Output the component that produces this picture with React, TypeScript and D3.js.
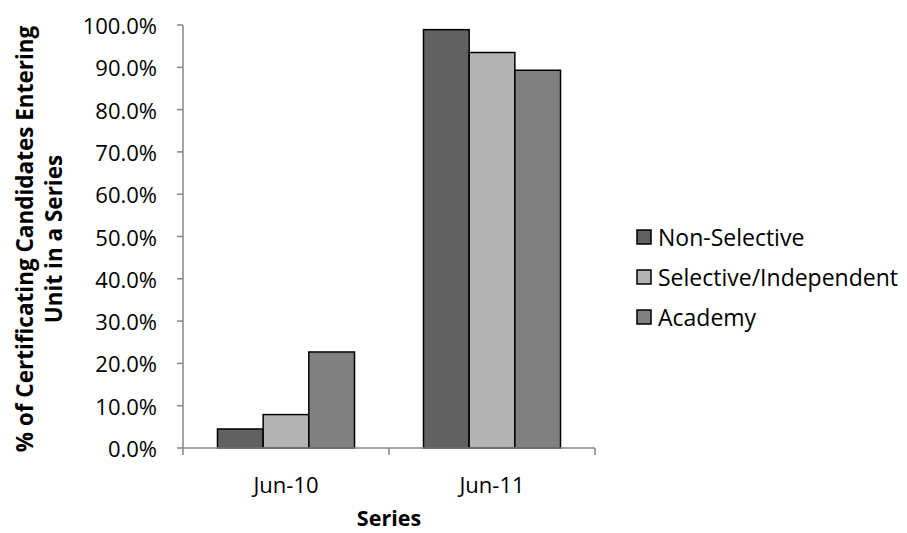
import React from "react";
import * as d3 from "d3";

const categories = ["Jun-10", "Jun-11"];
const seriesNames = ["Non-Selective", "Selective/Independent", "Academy"];
const nonSelective = [0.045, 0.989];
const selective = [0.079, 0.935];
const academy = [0.227, 0.893];
const yTicks = [0, 0.1, 0.2, 0.3, 0.4, 0.5, 0.6, 0.7, 0.8, 0.9, 1.0];
const colors = ["#616161", "#b3b3b3", "#808080"];

const W = 907;
const H = 533;
const left = 183;
const right = 595;
const top = 25;
const bottom = 448;
const FONT = "'Open Sans', sans-serif";

export default function App() {
  const series = [nonSelective, selective, academy];
  const x = d3.scaleBand().domain(categories).range([left, right]).paddingInner(0).paddingOuter(0);
  const y = d3.scaleLinear().domain([0, 1]).range([bottom, top]);
  const inner = d3
    .scaleBand()
    .domain(seriesNames)
    .range([0, x.bandwidth()])
    .paddingInner(0)
    .paddingOuter(0.755);
  const fmt = d3.format(".1%");
  const axisColor = "#868686";
  const tickEdges = [left, ...categories.map((c) => (x(c) as number) + x.bandwidth())];

  return (
    <svg width={W} height={H} style={{ position: "absolute", left: 0, top: 0, background: "#fff" }}>
      <rect x={0} y={0} width={W} height={H} fill="#fff" />
      {/* bars */}
      {categories.map((c, ci) =>
        series.map((s, si) => {
          const bx = (x(c) as number) + (inner(seriesNames[si]) as number);
          const by = y(s[ci]);
          return (
            <rect
              key={c + si}
              x={bx}
              y={by}
              width={inner.bandwidth()}
              height={bottom - by}
              fill={colors[si]}
              stroke="#000"
              strokeWidth={1.5}
            />
          );
        })
      )}
      {/* y axis */}
      <line x1={left} x2={left} y1={top} y2={bottom} stroke={axisColor} strokeWidth={1.5} />
      {yTicks.map((t) => (
        <g key={t}>
          <line x1={left - 6} x2={left} y1={y(t)} y2={y(t)} stroke={axisColor} strokeWidth={1.5} />
          <text
            x={157}
            y={y(t)}
            textAnchor="end"
            dominantBaseline="central"
            fontFamily={FONT}
            fontSize={22}
            fill="#000"
          >
            {fmt(t)}
          </text>
        </g>
      ))}
      {/* x axis */}
      <line x1={left} x2={right} y1={bottom} y2={bottom} stroke={axisColor} strokeWidth={1.5} />
      {tickEdges.map((tx) => (
        <line key={tx} x1={tx} x2={tx} y1={bottom} y2={bottom + 7} stroke={axisColor} strokeWidth={1.5} />
      ))}
      {categories.map((c) => (
        <text
          key={c}
          x={(x(c) as number) + x.bandwidth() / 2}
          y={484}
          textAnchor="middle"
          dominantBaseline="central"
          fontFamily={FONT}
          fontSize={22}
          fill="#000"
        >
          {c}
        </text>
      ))}
      {/* axis titles */}
      <text
        x={(left + right) / 2}
        y={526}
        textAnchor="middle"
        fontFamily={FONT}
        fontWeight="bold"
        fontSize={21.5}
        fill="#000"
      >
        Series
      </text>
      <g transform="translate(24,239) rotate(-90)">
        <text textAnchor="middle" dominantBaseline="central" fontFamily={FONT} fontWeight="bold" fontSize={22.5} fill="#000">
          % of Certificating Candidates Entering
        </text>
      </g>
      <g transform="translate(53,239) rotate(-90)">
        <text textAnchor="middle" dominantBaseline="central" fontFamily={FONT} fontWeight="bold" fontSize={22.5} fill="#000">
          Unit in a Series
        </text>
      </g>
      {/* legend */}
      {seriesNames.map((n, i) => {
        const cy = 237 + i * 40;
        return (
          <g key={n}>
            <rect x={637} y={cy - 7} width={14} height={14} fill={colors[i]} stroke="#000" strokeWidth={1.5} />
            <text x={658} y={cy} dominantBaseline="central" fontFamily={FONT} fontSize={23} fill="#000">
              {n}
            </text>
          </g>
        );
      })}
    </svg>
  );
}
